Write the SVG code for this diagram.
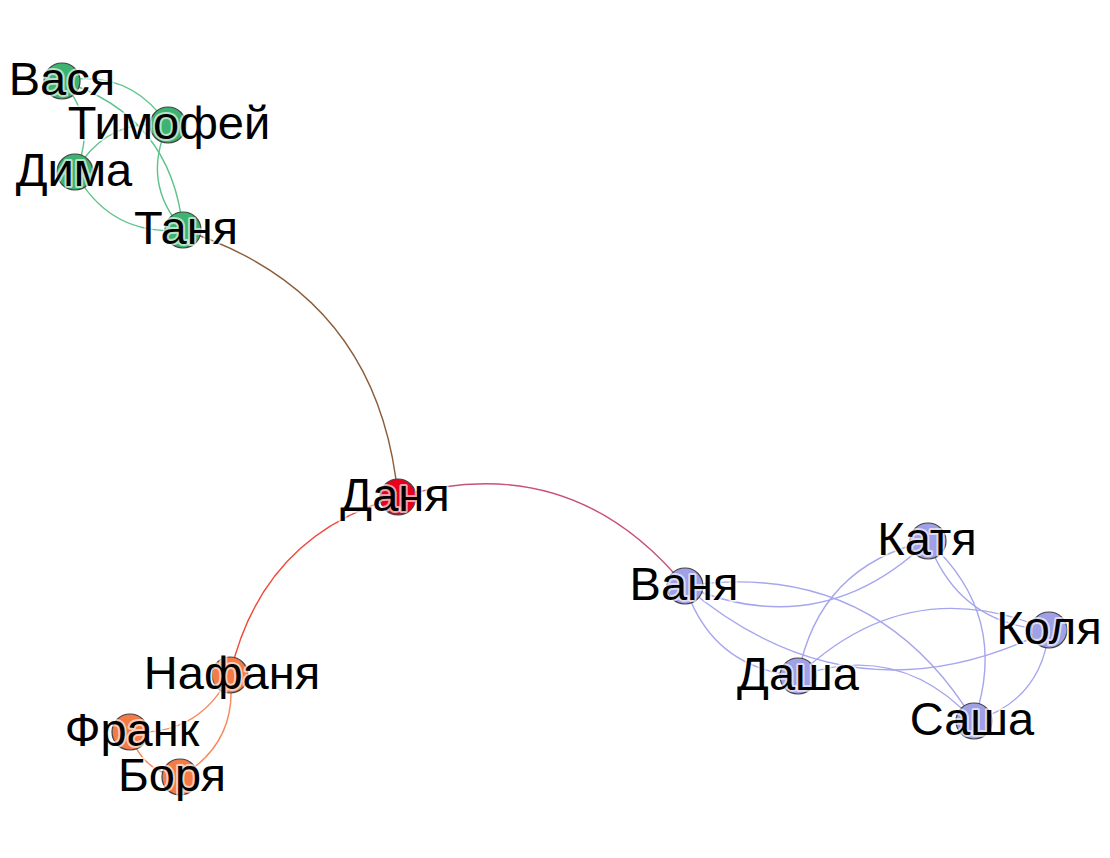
<svg xmlns="http://www.w3.org/2000/svg" width="1110" height="858" viewBox="0 0 1110 858">
<style>
.e{fill:none;stroke-width:1.4}
.g{stroke:#5cc48a}
.b{stroke:#a6a6ee}
.o{stroke:#f8885a}
circle{stroke:#444;stroke-width:1.2}
.ng{fill:#3cb371}
.nb{fill:#a0a0e6}
.no{fill:#f47a46}
.nr{fill:#e8001c}
text{font-family:"Liberation Sans",Arial,sans-serif;font-size:47px;fill:#000;text-anchor:middle;stroke:#fff;stroke-width:4;stroke-opacity:0.65;paint-order:stroke;stroke-linejoin:round}
</style>
<rect width="1110" height="858" fill="#fff"/>
<g id="edges">
<path class="e" stroke="#8b5e3c" d="M183,230 Q378.6,292.5 398,497"/>
<path class="e" stroke="#c8507a" d="M398,497 Q570.9,446.8 685,586"/>
<path class="e" stroke="#f04a3a" d="M230,675 Q262,535 398,497"/>
<path class="e g" d="M62,81 Q129.5,68 168,125"/>
<path class="e g" d="M62,81 Q98.5,122.2 75,172"/>
<path class="e g" d="M62,81 Q171.7,115.6 183,230"/>
<path class="e g" d="M75,172 Q106,117.8 168,125"/>
<path class="e g" d="M168,125 Q140.9,182.5 183,230"/>
<path class="e g" d="M75,172 Q109.9,236.6 183,230"/>
<path class="e o" d="M230,675 Q198.8,736.5 130,732"/>
<path class="e o" d="M230,675 Q238.7,742.5 180,777"/>
<path class="e o" d="M130,732 Q140,771 180,777"/>
<path class="e b" d="M685,586 Q874,558 974,721"/>
<path class="e b" d="M685,586 Q821.4,643.7 928,541"/>
<path class="e b" d="M685,586 Q711.8,668.3 798,676"/>
<path class="e b" d="M685,586 Q852.5,728 1049,630"/>
<path class="e b" d="M928,541 Q818.5,565.6 798,676"/>
<path class="e b" d="M798,676 Q908.3,570.2 1049,630"/>
<path class="e b" d="M798,676 Q900.9,640.4 974,721"/>
<path class="e b" d="M928,541 Q959.1,625.4 1049,630"/>
<path class="e b" d="M928,541 Q1010.4,615.8 974,721"/>
<path class="e b" d="M1049,630 Q1041.5,700.3 974,721"/>
</g>
<g id="n-vasya"><circle class="ng" cx="62" cy="81" r="18"/><text x="62" y="95">Вася</text></g>
<g id="n-timofey"><circle class="ng" cx="168" cy="125" r="18"/><text x="169" y="139">Тимофей</text></g>
<g id="n-dima"><circle class="ng" cx="75" cy="172" r="18"/><text x="74" y="186">Дима</text></g>
<g id="n-tanya"><circle class="ng" cx="183" cy="230" r="18"/><text x="186" y="244">Таня</text></g>
<g id="n-danya"><circle class="nr" cx="398" cy="497" r="18"/><text x="395" y="511">Даня</text></g>
<g id="n-vanya"><circle class="nb" cx="685" cy="586" r="18"/><text x="684" y="600">Ваня</text></g>
<g id="n-katya"><circle class="nb" cx="928" cy="541" r="18"/><text x="927" y="555">Катя</text></g>
<g id="n-kolya"><circle class="nb" cx="1049" cy="630" r="18"/><text x="1049" y="644">Коля</text></g>
<g id="n-dasha"><circle class="nb" cx="798" cy="676" r="18"/><text x="798" y="690">Даша</text></g>
<g id="n-sasha"><circle class="nb" cx="974" cy="721" r="18"/><text x="972" y="735">Саша</text></g>
<g id="n-nafanya"><circle class="no" cx="230" cy="675" r="18"/><text x="232" y="689">Нафаня</text></g>
<g id="n-frank"><circle class="no" cx="130" cy="732" r="18"/><text x="132" y="746">Франк</text></g>
<g id="n-borya"><circle class="no" cx="180" cy="777" r="18"/><text x="172" y="791">Боря</text></g>
</svg>
